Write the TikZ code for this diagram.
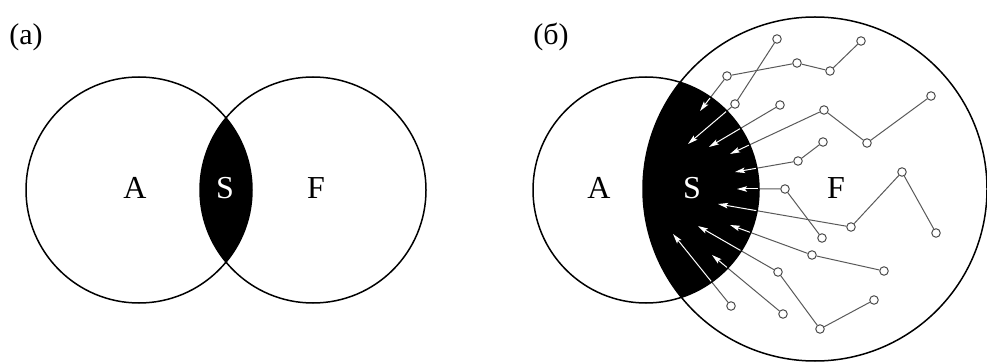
\documentclass[tikz,border=0pt]{standalone}
\usepackage{fontspec}
\setmainfont{Liberation Serif}
\usetikzlibrary{arrows.meta}

\begin{document}
\begin{tikzpicture}[
    x=1pt, y=-1pt,
    every node/.style={font=\fontsize{32}{36}\selectfont},
    tag/.style={font=\fontsize{30}{34}\selectfont},
    ring/.style={draw=black, line width=1.5pt},
    dot/.style={circle, draw=black!70, fill=white, line width=1pt, minimum size=8.5pt, inner sep=0pt},
    link/.style={draw=black!65, line width=1pt},
    push/.style={draw=white, line width=1pt, -{Stealth[length=10pt,width=5.5pt,inset=2pt]}}
]
\useasboundingbox (0,0) rectangle (987,363);

% Panel (a): two equal sets
\begin{scope}
  \clip (139,190) circle (113pt);
  \fill[black] (313,190) circle (113pt);
\end{scope}
\draw[ring] (139,190) circle (113pt);
\draw[ring] (313,190) circle (113pt);
\node[tag] (tagA) at (26,37) {(a)};
\node (labA) at (135,188) {A};
\node[text=white] (labS) at (225,188) {S};
\node (labF) at (316,188) {F};

% Panel (b): free chains in F
\node[dot] (a1) at (861,41) {};
\node[dot] (a2) at (830,71) {};
\node[dot] (a3) at (797,63) {};
\node[dot] (a4) at (727,76) {};
\node[dot] (b1) at (777,39) {};
\node[dot] (b2) at (735,104) {};
\node[dot] (c1) at (780,105) {};
\node[dot] (d1) at (931,96) {};
\node[dot] (d2) at (867,143) {};
\node[dot] (d3) at (824,110) {};
\node[dot] (e1) at (823,142) {};
\node[dot] (e2) at (798,161) {};
\node[dot] (f1) at (822,238) {};
\node[dot] (f2) at (785,189) {};
\node[dot] (g1) at (936,233) {};
\node[dot] (g2) at (902,172) {};
\node[dot] (g3) at (851,227) {};
\node[dot] (h1) at (884,271) {};
\node[dot] (h2) at (812,255) {};
\node[dot] (i1) at (874,300) {};
\node[dot] (i2) at (820,329) {};
\node[dot] (i3) at (778,272) {};
\node[dot] (j1) at (783,314) {};
\node[dot] (k1) at (731,306) {};

% arrow tips inside S
\coordinate (ta) at (700,111);
\coordinate (tb) at (688,144);
\coordinate (tc) at (709,147);
\coordinate (td) at (730,154);
\coordinate (te) at (735,172);
\coordinate (tf) at (737,189);
\coordinate (tg) at (718,204);
\coordinate (th) at (730,225);
\coordinate (ti) at (698,226);
\coordinate (tj) at (712,255);
\coordinate (tk) at (673,234);

% chains
\draw[link] (a1) -- (a2) -- (a3) -- (a4) -- (ta);
\draw[link] (b1) -- (b2) -- (tb);
\draw[link] (c1) -- (tc);
\draw[link] (d1) -- (d2) -- (d3) -- (td);
\draw[link] (e1) -- (e2) -- (te);
\draw[link] (f1) -- (f2) -- (tf);
\draw[link] (g1) -- (g2) -- (g3) -- (tg);
\draw[link] (h1) -- (h2) -- (th);
\draw[link] (i1) -- (i2) -- (i3) -- (ti);
\draw[link] (j1) -- (tj);
\draw[link] (k1) -- (tk);

% S = A and F
\begin{scope}
  \clip (646,190) circle (113pt);
  \fill[black] (815,189) circle (172pt);
  \draw[push] (a4) -- (ta);
  \draw[push] (b2) -- (tb);
  \draw[push] (c1) -- (tc);
  \draw[push] (d3) -- (td);
  \draw[push] (e2) -- (te);
  \draw[push] (f2) -- (tf);
  \draw[push] (g3) -- (tg);
  \draw[push] (h2) -- (th);
  \draw[push] (i3) -- (ti);
  \draw[push] (j1) -- (tj);
  \draw[push] (k1) -- (tk);
\end{scope}
\draw[ring] (646,190) circle (113pt);
\draw[ring] (815,189) circle (172pt);
\node[tag] (tagB) at (551,37) {(б)};
\node (labA2) at (599,188) {A};
\node[text=white] (labS2) at (692,188) {S};
\node (labF2) at (836,188) {F};

\end{tikzpicture}
\end{document}
